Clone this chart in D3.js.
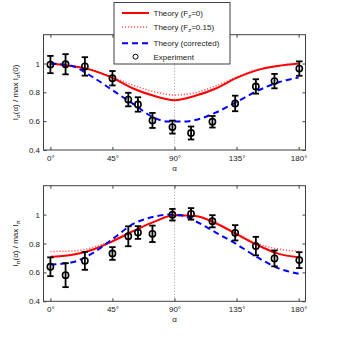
<!DOCTYPE html>
<html>
<head>
<meta charset="utf-8">
<script src="https://cdn.jsdelivr.net/npm/d3@7"></script>
<style>
body { margin: 0; background: #fff; }
svg { display: block; font-family: "Liberation Sans", Arial, sans-serif; }
</style>
</head>
<body>
<svg id="chart" width="337" height="340"></svg>
<script>
var thAngles = [0, 15, 30, 45, 60, 75, 90, 105, 120, 135, 150, 165, 180];
var corrAngles = [0, 15, 30, 45, 60, 75, 85, 95, 105, 120, 135, 150, 165, 180];

var sigmaFz0 = [1.0, 0.983, 0.954, 0.9, 0.827, 0.776, 0.746, 0.776, 0.827, 0.9, 0.954, 0.983, 1.0];
var sigmaFz015 = [1.0, 0.985, 0.957, 0.905, 0.85, 0.805, 0.782, 0.797, 0.845, 0.905, 0.957, 0.985, 1.0];
var sigmaCorr = [1.0, 0.985, 0.91, 0.815, 0.72, 0.625, 0.597, 0.597, 0.608, 0.66, 0.733, 0.81, 0.868, 0.903];

var piFz0 = [0.708, 0.72, 0.755, 0.815, 0.885, 0.95, 0.995, 0.99, 0.94, 0.865, 0.79, 0.73, 0.705];
var piFz015 = [0.745, 0.748, 0.77, 0.822, 0.887, 0.95, 0.995, 0.99, 0.94, 0.87, 0.8, 0.762, 0.747];
var piCorr = [0.655, 0.668, 0.73, 0.83, 0.935, 0.985, 1.0, 0.995, 0.955, 0.876, 0.795, 0.705, 0.63, 0.59];

// measurements
var expAngles = [0, 11, 25, 45, 56.5, 63.5, 74, 88.5, 102, 117.5, 134, 149, 162.5, 180.5];
var sigmaExp = [0.993, 0.995, 0.98, 0.898, 0.75, 0.716, 0.605, 0.559, 0.518, 0.596, 0.723, 0.841, 0.878, 0.965];
var sigmaErr = [0.06, 0.07, 0.064, 0.05, 0.047, 0.05, 0.052, 0.045, 0.045, 0.04, 0.054, 0.05, 0.05, 0.05];
var piExp = [0.639, 0.581, 0.68, 0.731, 0.85, 0.876, 0.867, 0.999, 1.005, 0.954, 0.874, 0.782, 0.697, 0.685];
var piErr = [0.065, 0.083, 0.062, 0.044, 0.069, 0.044, 0.057, 0.04, 0.04, 0.042, 0.053, 0.064, 0.055, 0.055];

var xTicks = [0, 45, 90, 135, 180];
var xTickLabels = ["0°", "45°", "90°", "135°", "180°"];
var yTicks = [0.4, 0.6, 0.8, 1];
var yTickLabels = ["0.4", "0.6", "0.8", "1"];

var svg = d3.select("#chart");
var left = 43.5, right = 305.5;
var axisColor = "#404040", textColor = "#222";

var x = d3.scaleLinear().domain([-5, 185]).range([left, right]);

function zip(a, b) { return a.map(function(v, i) { return [v, b[i]]; }); }

function drawPanel(top, bottom, fz0, fz015, corr, vals, errs, sub, tail) {
    var y = d3.scaleLinear().domain([0.4, 1.2]).range([bottom, top]);
    var g = svg.append("g");

    var line = d3.line()
        .x(function(d) { return x(d[0]); })
        .y(function(d) { return y(d[1]); })
        .curve(d3.curveMonotoneX);

    // 90 deg guide
    g.append("line")
        .attr("x1", x(90)).attr("x2", x(90))
        .attr("y1", top).attr("y2", bottom)
        .attr("stroke", "#888").attr("stroke-width", 0.8)
        .attr("stroke-dasharray", "1,2");

    g.append("path").datum(zip(thAngles, fz015))
        .attr("d", line).attr("fill", "none")
        .attr("stroke", "#ff5a5a").attr("stroke-width", 1.5)
        .attr("stroke-dasharray", "1.2,1.8");
    g.append("path").datum(zip(thAngles, fz0))
        .attr("d", line).attr("fill", "none")
        .attr("stroke", "#ff0000").attr("stroke-width", 2);
    g.append("path").datum(zip(corrAngles, corr))
        .attr("d", line).attr("fill", "none")
        .attr("stroke", "#0000ff").attr("stroke-width", 2)
        .attr("stroke-dasharray", "6,4");

    var pts = expAngles.map(function(a, i) { return {a: a, v: vals[i], e: errs[i]}; });
    var pg = g.selectAll(".pt").data(pts).enter().append("g").attr("class", "pt")
        .attr("stroke", "#000").attr("fill", "none");
    pg.append("line")
        .attr("x1", function(d) { return x(d.a); }).attr("x2", function(d) { return x(d.a); })
        .attr("y1", function(d) { return y(d.v - d.e); }).attr("y2", function(d) { return y(d.v + d.e); })
        .attr("stroke-width", 1.8);
    pg.append("line")
        .attr("x1", function(d) { return x(d.a) - 3.2; }).attr("x2", function(d) { return x(d.a) + 3.2; })
        .attr("y1", function(d) { return y(d.v + d.e); }).attr("y2", function(d) { return y(d.v + d.e); })
        .attr("stroke-width", 1.8);
    pg.append("line")
        .attr("x1", function(d) { return x(d.a) - 3.2; }).attr("x2", function(d) { return x(d.a) + 3.2; })
        .attr("y1", function(d) { return y(d.v - d.e); }).attr("y2", function(d) { return y(d.v - d.e); })
        .attr("stroke-width", 1.8);
    pg.append("circle")
        .attr("cx", function(d) { return x(d.a); })
        .attr("cy", function(d) { return y(d.v); })
        .attr("r", 3.1).attr("stroke-width", 1.6);

    // axes, ticks inward on every side
    var ax = [
        g.append("g").attr("transform", "translate(0," + bottom + ")")
            .call(d3.axisBottom(x).tickValues(xTicks).tickSize(-3).tickPadding(5)
                .tickFormat(function(d, i) { return xTickLabels[i]; })),
        g.append("g").attr("transform", "translate(0," + top + ")")
            .call(d3.axisTop(x).tickValues(xTicks).tickSize(-3).tickFormat("")),
        g.append("g").attr("transform", "translate(" + left + ",0)")
            .call(d3.axisLeft(y).tickValues(yTicks).tickSize(-3).tickPadding(3.5)
                .tickFormat(function(d, i) { return yTickLabels[i]; })),
        g.append("g").attr("transform", "translate(" + right + ",0)")
            .call(d3.axisRight(y).tickValues(yTicks).tickSize(-3).tickFormat(""))
    ];
    ax.forEach(function(a) {
        a.select(".domain").remove();
        a.selectAll("line").attr("stroke", axisColor);
        a.selectAll("text").attr("fill", textColor).attr("font-size", 8)
            .attr("font-family", "Liberation Sans, Arial, sans-serif");
    });

    g.append("rect")
        .attr("x", left).attr("y", top)
        .attr("width", right - left).attr("height", bottom - top)
        .attr("fill", "none").attr("stroke", axisColor).attr("stroke-width", 1);

    g.append("text")
        .attr("x", x(90)).attr("y", bottom + 20.5)
        .attr("text-anchor", "middle").attr("font-size", 8).attr("fill", textColor)
        .text("α");

    var yl = g.append("text")
        .attr("transform", "translate(17.5," + ((top + bottom) / 2) + ") rotate(-90)")
        .attr("text-anchor", "middle").attr("font-size", 8).attr("fill", textColor);
    yl.append("tspan").text("I");
    yl.append("tspan").attr("dy", 2.5).attr("font-size", 6).text(sub);
    yl.append("tspan").attr("dy", -2.5).text("(α)  /  max I");
    yl.append("tspan").attr("dy", 2.5).attr("font-size", 6).text(sub);
    if (tail) yl.append("tspan").attr("dy", -2.5).text(tail);
}

drawPanel(34.7, 150, sigmaFz0, sigmaFz015, sigmaCorr, sigmaExp, sigmaErr, "σ", "(0)");
drawPanel(185.7, 301.3, piFz0, piFz015, piCorr, piExp, piErr, "π", "");

// legend
var legend = svg.append("g");
legend.append("rect")
    .attr("x", 114).attr("y", 2.5).attr("width", 116).attr("height", 61.5)
    .attr("fill", "#fff").attr("stroke", axisColor).attr("stroke-width", 1);

var legendRows = [
    {y: 13, kind: "solid", text: ["Theory (F", "z", "=0)"]},
    {y: 27, kind: "dotted", text: ["Theory (F", "z", "=0.15)"]},
    {y: 43.3, kind: "dashed", text: ["Theory (corrected)"]},
    {y: 56.7, kind: "marker", text: ["Experiment"]}
];
legendRows.forEach(function(r) {
    if (r.kind === "marker") {
        legend.append("circle").attr("cx", 135.5).attr("cy", r.y).attr("r", 2.5)
            .attr("fill", "none").attr("stroke", "#000").attr("stroke-width", 1);
    } else {
        var l = legend.append("line")
            .attr("x1", 122).attr("x2", 149).attr("y1", r.y).attr("y2", r.y)
            .attr("fill", "none");
        if (r.kind === "solid") l.attr("stroke", "#ff0000").attr("stroke-width", 2);
        if (r.kind === "dotted") l.attr("stroke", "#ff5a5a").attr("stroke-width", 1.5).attr("stroke-dasharray", "1.2,1.8");
        if (r.kind === "dashed") l.attr("stroke", "#0000ff").attr("stroke-width", 2).attr("stroke-dasharray", "6,4");
    }
    var t = legend.append("text").attr("x", 153.5).attr("y", r.y + 2.8)
        .attr("font-size", 8).attr("fill", textColor);
    t.append("tspan").text(r.text[0]);
    if (r.text.length > 1) {
        t.append("tspan").attr("dy", 2.5).attr("font-size", 6).text(r.text[1]);
        t.append("tspan").attr("dy", -2.5).text(r.text[2]);
    }
});
</script>
</body>
</html>
